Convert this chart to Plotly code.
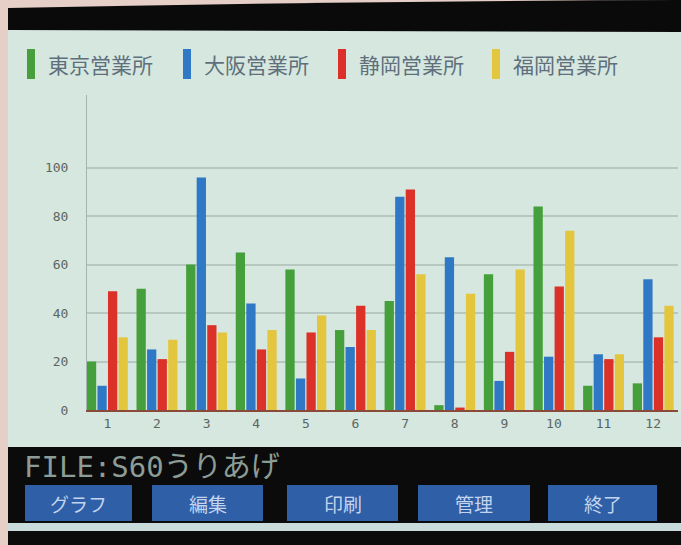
import plotly.graph_objects as go

months = [str(i) for i in range(1, 13)]
series_names = ["東京営業所", "大阪営業所", "静岡営業所", "福岡営業所"]
tokyo = [20, 50, 60, 65, 58, 33, 45, 2, 56, 84, 10, 11]
osaka = [10, 25, 96, 44, 13, 26, 88, 63, 12, 22, 23, 54]
shizuoka = [49, 21, 35, 25, 32, 43, 91, 1, 24, 51, 21, 30]
fukuoka = [30, 29, 32, 33, 39, 33, 56, 48, 58, 74, 23, 43]
y_ticks = [0, 20, 40, 60, 80, 100]
file_label = "FILE:S60うりあげ"
menu_labels = ["グラフ", "編集", "印刷", "管理", "終了"]

colors = ["#45a03c", "#2f78c6", "#dc3129", "#e4c53e"]
W, H = 681, 545
L, R, T, B = 87, 3, 95, 135
pw, ph = W - L - R, H - T - B


def px(x):
    return (x - L) / pw


def py(y):
    return (H - B - y) / ph


fig = go.Figure()
for name, vals, c in zip(series_names, [tokyo, osaka, shizuoka, fukuoka], colors):
    fig.add_trace(go.Bar(x=months, y=vals, name=name, marker=dict(color=c, line=dict(width=0)),
                         showlegend=False))

shapes = []
annotations = []

# top black band
shapes.append(dict(type="rect", xref="paper", yref="paper", x0=px(0), x1=px(W), y0=py(0), y1=py(8),
                   fillcolor="#e6cfc7", line=dict(width=0), layer="below"))
shapes.append(dict(type="path", xref="paper", yref="paper",
                   path=f"M {px(8)},{py(8)} Q {px(340)},{py(1)} {px(W)},{py(0)} L {px(W)},{py(32)} L {px(8)},{py(30)} Z",
                   fillcolor="#0a0a0a", line=dict(width=0)))
# left pinkish strip
shapes.append(dict(type="rect", xref="paper", yref="paper", x0=px(0), x1=px(8), y0=py(0), y1=py(H),
                   fillcolor="#e6cfc7", line=dict(width=0)))

# legend (custom swatches)
leg_x = [27, 183, 338, 492]
for xx, name, c in zip(leg_x, series_names, colors):
    shapes.append(dict(type="rect", xref="paper", yref="paper", x0=px(xx), x1=px(xx + 8),
                       y0=py(49), y1=py(79), fillcolor=c, line=dict(width=0)))
    annotations.append(dict(x=px(xx + 19), y=py(64), xref="paper", yref="paper", text=name,
                            showarrow=False, xanchor="left", yanchor="middle",
                            font=dict(family="Noto Sans CJK JP", size=21, color="#5f6f7c")))

# bottom black area
shapes.append(dict(type="rect", xref="paper", yref="paper", x0=px(8), x1=px(W), y0=py(447), y1=py(523),
                   fillcolor="#0b0b0b", line=dict(width=0)))
shapes.append(dict(type="rect", xref="paper", yref="paper", x0=px(8), x1=px(W), y0=py(523), y1=py(531),
                   fillcolor="#c9dcdb", line=dict(width=0)))
shapes.append(dict(type="rect", xref="paper", yref="paper", x0=px(8), x1=px(W), y0=py(531), y1=py(H),
                   fillcolor="#0b0b0b", line=dict(width=0)))

annotations.append(dict(x=px(22), y=py(467), xref="paper", yref="paper", text=file_label,
                        showarrow=False, xanchor="left", yanchor="middle",
                        font=dict(family="DejaVu Sans Mono, Noto Sans CJK JP", size=29, color="#8c9c96")))

buttons = [(25, 132), (152, 263), (287, 398), (418, 530), (548, 657)]
for (x0, x1), lab in zip(buttons, menu_labels):
    shapes.append(dict(type="rect", xref="paper", yref="paper", x0=px(x0), x1=px(x1), y0=py(485), y1=py(521),
                       fillcolor="#2f5fa6", line=dict(width=0)))
    annotations.append(dict(x=px((x0 + x1) / 2), y=py(503), xref="paper", yref="paper", text=lab,
                            showarrow=False, xanchor="center", yanchor="middle",
                            font=dict(family="Noto Sans CJK JP", size=19, color="#c2d4ee")))

fig.update_layout(
    width=W, height=H,
    margin=dict(l=L, r=R, t=T, b=B, pad=0),
    paper_bgcolor="#d5e7df",
    plot_bgcolor="#d5e7df",
    barmode="group",
    bargap=0.15,
    bargroupgap=0.12,
    shapes=shapes,
    annotations=annotations,
    xaxis=dict(type="category", range=[-0.41, 11.5], showgrid=False, showline=True,
               linecolor="#8a4a3a", linewidth=2, ticks="",
               tickfont=dict(family="DejaVu Sans Mono", size=13, color="#5c6660")),
    yaxis=dict(range=[0, 130], tickvals=y_ticks, showgrid=True, gridcolor="#b6c8bf", gridwidth=1.5,
               zeroline=False, showline=True, linecolor="#a3b3ad", linewidth=1,
               ticks="outside", ticklen=15, tickcolor="rgba(0,0,0,0)",
               tickfont=dict(family="DejaVu Sans Mono", size=13, color="#5c6660")),
)

fig.write_html("out.html", config={"displayModeBar": False},
               post_script="document.body.style.margin='0px';document.body.style.overflow='hidden';")
